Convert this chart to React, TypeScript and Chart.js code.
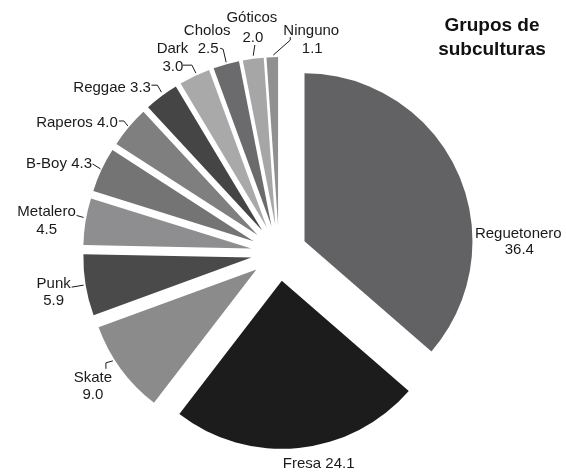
import { useEffect, useRef } from "react";
import { Chart, ArcElement, PieController } from "chart.js";

const categories = [
  "Reguetonero", "Fresa", "Skate", "Punk", "Metalero", "B-Boy",
  "Raperos", "Reggae", "Dark", "Cholos", "Góticos", "Ninguno",
];
const values = [36.4, 24.1, 9.0, 5.9, 4.5, 4.3, 4.0, 3.3, 3.0, 2.5, 2.0, 1.1];
const valueLabels = values.map((v) => v.toFixed(1));
const titleLines = ["Grupos de", "subculturas"];

const sliceColors = [
  "#626264", "#1c1c1c", "#8b8b8b", "#4a4a4a", "#8e8e90", "#747474",
  "#7f7f7f", "#454545", "#a9a9a9", "#6b6b6d", "#a6a6a6", "#909090",
];

// Label layout, relative to the outer edge point of each slice's bisector.
type Layout = {
  split: boolean;
  pos: [number, number][];
  align: CanvasTextAlign;
  leader: [number, number][];
};
const labelLayout: Layout[] = [
  { split: true, pos: [[61, 61], [62, 77]], align: "center", leader: [] },
  { split: false, pos: [[20, 15]], align: "center", leader: [] },
  { split: true, pos: [[-28, 8], [-28, 25]], align: "center", leader: [[-15, 0], [-15, -6], [-8, -8]] },
  { split: true, pos: [[-32, -3], [-32, 14]], align: "center", leader: [[-14, 2], [-2, 0]] },
  { split: true, pos: [[-39, -11], [-39, 7]], align: "center", leader: [[-9, -6], [-2, -4]] },
  { split: false, pos: [[-9.5, -7]], align: "right", leader: [[-9, -6], [-1, -1]] },
  { split: false, pos: [[-11, -5]], align: "right", leader: [[-10, -6], [-5, -6], [-1, -1]] },
  { split: false, pos: [[-10.5, -10]], align: "right", leader: [[-10, -11], [-4, -11], [0, -4]] },
  { split: true, pos: [[-22, -28.6], [-21.6, -11]], align: "center", leader: [[-11.6, -11], [-2.6, -11], [1.4, -3]] },
  { split: true, pos: [[-19, -35], [-18, -17]], align: "center", leader: [[-6, -16], [-3, -15], [0, -2]] },
  { split: true, pos: [[-1.4, -41.7], [-0.4, -21.7]], align: "center", leader: [[1.6, -13.7], [0, -3]] },
  { split: true, pos: [[39, -28], [40, -10]], align: "center", leader: [[18, -20], [18, -17], [1, -2]] },
];

const FONT = '"Liberation Sans", Arial, Helvetica, sans-serif';

class ExplodedArc extends ArcElement {
  static id = "explodedArc";
  draw(ctx: CanvasRenderingContext2D) {
    const p: any = (this as any).getProps(["x", "y", "startAngle", "endAngle", "outerRadius"]);
    const opts: any = (this as any).options;
    const off = opts.offset || 0;
    const mid = (p.startAngle + p.endAngle) / 2;
    ctx.save();
    ctx.translate(Math.cos(mid) * off, Math.sin(mid) * off);
    ctx.beginPath();
    ctx.moveTo(p.x, p.y);
    ctx.arc(p.x, p.y, p.outerRadius, p.startAngle, p.endAngle);
    ctx.closePath();
    ctx.fillStyle = opts.backgroundColor;
    ctx.fill();
    ctx.restore();
  }
}

class ExplodedPieController extends PieController {
  static id = "explodedPie";
  static defaults = { dataElementType: "explodedArc" };
}

Chart.register(ArcElement, PieController, ExplodedArc, ExplodedPieController);

const labelPlugin = {
  id: "sliceLabels",
  afterDatasetsDraw(chart: any) {
    const ctx: CanvasRenderingContext2D = chart.ctx;
    const meta = chart.getDatasetMeta(0);
    ctx.save();
    ctx.fillStyle = "#1a1a1a";
    ctx.strokeStyle = "#1a1a1a";
    ctx.lineWidth = 1;
    ctx.font = `15px ${FONT}`;
    ctx.textBaseline = "alphabetic";
    meta.data.forEach((arc: any, i: number) => {
      const p = arc.getProps(["x", "y", "startAngle", "endAngle", "outerRadius"]);
      const off = arc.options.offset || 0;
      const mid = (p.startAngle + p.endAngle) / 2;
      const d = off + p.outerRadius;
      const ex = p.x + Math.cos(mid) * d;
      const ey = p.y + Math.sin(mid) * d;
      const lay = labelLayout[i];
      const lines = lay.split
        ? [categories[i], valueLabels[i]]
        : [`${categories[i]} ${valueLabels[i]}`];
      ctx.textAlign = lay.align;
      lines.forEach((t, k) => {
        const [dx, dy] = lay.pos[k];
        ctx.fillText(t, ex + dx, ey + dy + 5.4);
      });
      if (lay.leader.length > 1) {
        ctx.beginPath();
        lay.leader.forEach(([dx, dy], k) => {
          if (k === 0) ctx.moveTo(ex + dx, ey + dy);
          else ctx.lineTo(ex + dx, ey + dy);
        });
        ctx.stroke();
      }
    });
    ctx.font = `bold 19px ${FONT}`;
    ctx.textAlign = "center";
    ctx.fillStyle = "#111";
    ctx.fillText(titleLines[0], 492, 31);
    ctx.fillText(titleLines[1], 492, 55);
    ctx.restore();
  },
};

export default function App() {
  const ref = useRef<HTMLCanvasElement | null>(null);
  useEffect(() => {
    if (!ref.current) return;
    const chart = new Chart(ref.current, {
      type: "explodedPie" as any,
      data: {
        labels: categories,
        datasets: [
          {
            data: values,
            backgroundColor: sliceColors,
            borderWidth: 0,
            offset: 28,
          } as any,
        ],
      },
      options: {
        responsive: false,
        animation: false,
        events: [],
        radius: 168,
        layout: { padding: { left: 0, right: 8, top: 34, bottom: 0 } },
        plugins: {
          legend: { display: false },
          tooltip: { enabled: false },
        },
      } as any,
      plugins: [labelPlugin],
    });
    return () => chart.destroy();
  }, []);
  return (
    <div style={{ position: "absolute", left: 0, top: 0, width: 566, height: 472, background: "#fff" }}>
      <canvas ref={ref} width={566} height={472} style={{ display: "block" }} />
    </div>
  );
}
